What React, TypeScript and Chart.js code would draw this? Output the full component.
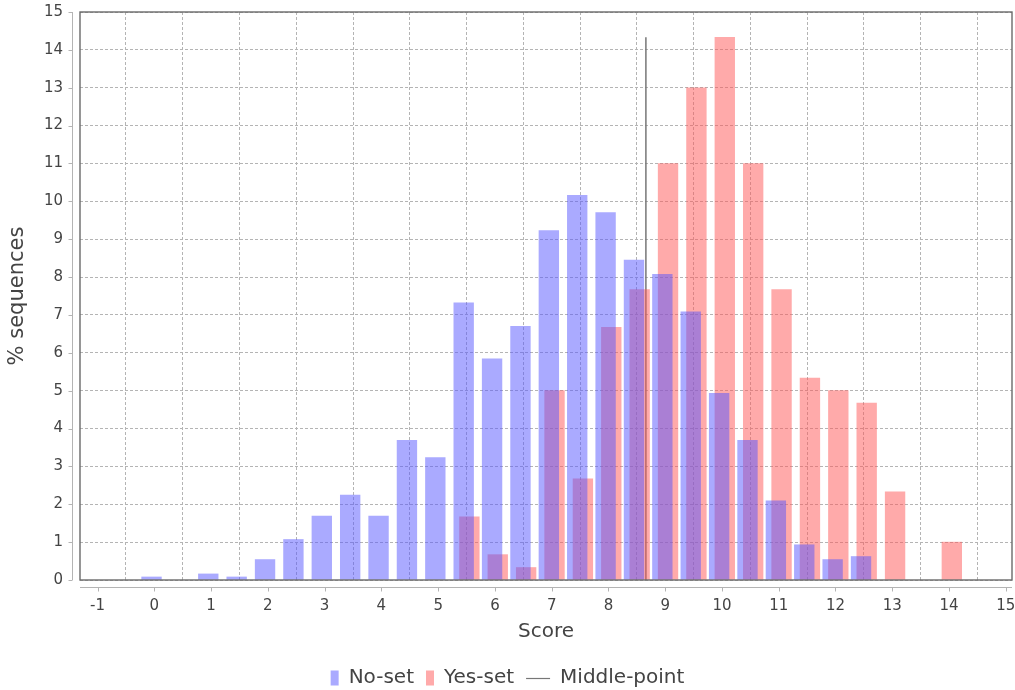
import React, { useEffect, useRef } from "react";
import { Chart, registerables } from "chart.js";

Chart.register(...registerables);

// ---- data ----
const NO_SCORES = [0, 1, 1.5, 2, 2.5, 3, 3.5, 4, 4.5, 5, 5.5, 6, 6.5, 7, 7.5, 8, 8.5, 9, 9.5, 10, 10.5, 11, 11.5, 12, 12.5];
const NO_VALUES = [0.08, 0.16, 0.08, 0.54, 1.07, 1.69, 2.24, 1.69, 3.69, 3.23, 7.32, 5.84, 6.7, 9.23, 10.16, 9.7, 8.45, 8.07, 7.08, 4.93, 3.69, 2.09, 0.93, 0.54, 0.62];
const YES_SCORES = [5.5, 6, 6.5, 7, 7.5, 8, 8.5, 9, 9.5, 10, 10.5, 11, 11.5, 12, 12.5, 13, 14];
const YES_VALUES = [1.67, 0.67, 0.33, 5.0, 2.67, 6.67, 7.67, 11.0, 13.0, 14.33, 11.0, 7.67, 5.33, 5.0, 4.67, 2.33, 1.0];
const MIDDLE_X = 8.66;
const MIDDLE_Y = [0, 14.33];
const SERIES_LABELS = ["No-set", "Yes-set", "Middle-point"];
const X_TITLE = "Score";
const Y_TITLE = "% sequences";
const X_RANGE = [-1.31, 15.11];
const Y_RANGE = [0, 15];

// ---- styles ----
const BLUE = "rgba(85,85,255,0.5)";
const RED = "rgba(255,85,85,0.5)";
const MID_COLOR = "#777777";
const TEXT = "#444444";
const FONT = "'DejaVu Sans', sans-serif";
const BAR_SHIFT = 0.05;

const zeroPad = (s: any) => {
  s.paddingLeft = 0;
  s.paddingRight = 0;
  s.paddingTop = 0;
  s.paddingBottom = 0;
};

const decorPlugin = {
  id: "decor",
  afterDraw(chart: any) {
    const { ctx, chartArea: a, scales } = chart;
    const x = scales.x;
    const y = scales.y;
    ctx.save();
    // plot outline
    ctx.strokeStyle = "#6a6a6a";
    ctx.lineWidth = 1.4;
    ctx.strokeRect(a.left, a.top, a.right - a.left, a.bottom - a.top);
    // axis lines offset from plot
    ctx.strokeStyle = "#b4b4b4";
    ctx.lineWidth = 1;
    const yx = a.left - 7.5;
    ctx.beginPath();
    ctx.moveTo(yx, a.top);
    ctx.lineTo(yx, a.bottom);
    y.ticks.forEach((t: any) => {
      const py = Math.round(y.getPixelForValue(t.value)) + 0.5;
      ctx.moveTo(yx - 4, py);
      ctx.lineTo(yx, py);
    });
    const xy = a.bottom + 7.5;
    ctx.moveTo(a.left, xy);
    ctx.lineTo(a.right, xy);
    x.ticks.forEach((t: any) => {
      const px = Math.round(x.getPixelForValue(t.value)) + 0.5;
      ctx.moveTo(px, xy);
      ctx.lineTo(px, xy + 4);
    });
    ctx.stroke();

    // legend
    const items = chart.data.datasets.map((ds: any) => ({
      label: ds.label,
      kind: ds.type === "line" ? "line" : "box",
      color: ds.type === "line" ? ds.borderColor : ds.backgroundColor,
    }));
    ctx.font = `20px ${FONT}`;
    ctx.textBaseline = "middle";
    const boxW = 8, boxH = 15, lineW = 24, gapIcon = 10, gapItem = 12;
    const widths = items.map((it: any) => (it.kind === "line" ? lineW : boxW) + gapIcon + ctx.measureText(it.label).width);
    const total = widths.reduce((s: number, w: number) => s + w, 0) + gapItem * (items.length - 1);
    let cx = chart.width / 2 - total / 2;
    const cy = 678;
    items.forEach((it: any) => {
      if (it.kind === "box") {
        ctx.fillStyle = it.color;
        ctx.fillRect(cx, cy - boxH / 2, boxW, boxH);
        cx += boxW + gapIcon;
      } else {
        ctx.strokeStyle = it.color;
        ctx.lineWidth = 1.2;
        ctx.beginPath();
        ctx.moveTo(cx, cy + 0.5);
        ctx.lineTo(cx + lineW, cy + 0.5);
        ctx.stroke();
        cx += lineW + gapIcon;
      }
      ctx.fillStyle = TEXT;
      ctx.textAlign = "left";
      ctx.fillText(it.label, cx, cy);
      cx += ctx.measureText(it.label).width + gapItem;
    });
    ctx.restore();
  },
};

export default function App() {
  const ref = useRef<HTMLCanvasElement | null>(null);
  useEffect(() => {
    document.body.style.margin = "0";
    const canvas = ref.current;
    if (!canvas) return;
    const gridCommon = {
      color: "#b4b4b4",
      lineWidth: 1,
      drawTicks: false,
    };
    const chart = new Chart(canvas, {
      data: {
        datasets: [
          {
            type: "bar",
            label: SERIES_LABELS[0],
            data: NO_SCORES.map((s, i) => ({ x: s - BAR_SHIFT, y: NO_VALUES[i] })),
            backgroundColor: BLUE,
            borderWidth: 0,
            barThickness: 19.7,
            grouped: false,
          },
          {
            type: "bar",
            label: SERIES_LABELS[1],
            data: YES_SCORES.map((s, i) => ({ x: s + BAR_SHIFT, y: YES_VALUES[i] })),
            backgroundColor: RED,
            borderWidth: 0,
            barThickness: 19.7,
            grouped: false,
          },
          {
            type: "line",
            label: SERIES_LABELS[2],
            data: MIDDLE_Y.map((v) => ({ x: MIDDLE_X, y: v })),
            borderColor: MID_COLOR,
            borderWidth: 1.5,
            pointRadius: 0,
            fill: false,
          },
        ] as any,
      },
      options: {
        responsive: false,
        animation: false,
        layout: { padding: { top: 12, right: 3, bottom: 40, left: 0 } },
        plugins: {
          legend: { display: false },
          tooltip: { enabled: false },
        },
        scales: {
          x: {
            type: "linear",
            offset: false,
            min: X_RANGE[0],
            max: X_RANGE[1],
            afterFit: (s: any) => {
              s.height = 70;
              zeroPad(s);
            },
            ticks: {
              stepSize: 1,
              includeBounds: false,
              font: { family: FONT, size: 15 },
              color: TEXT,
              padding: 17,
              maxRotation: 0,
              autoSkip: false,
            },
            grid: gridCommon,
            border: { display: false, dash: [3, 2] },
            title: {
              display: true,
              text: X_TITLE,
              font: { family: FONT, size: 20 },
              color: TEXT,
              padding: { top: 0, bottom: 6 },
            },
          },
          y: {
            type: "linear",
            min: Y_RANGE[0],
            max: Y_RANGE[1],
            afterFit: (s: any) => {
              s.width = 80;
              zeroPad(s);
            },
            ticks: {
              stepSize: 1,
              font: { family: FONT, size: 15 },
              color: TEXT,
              padding: 17,
            },
            grid: gridCommon,
            border: { display: false, dash: [3, 2] },
            title: {
              display: true,
              text: Y_TITLE,
              font: { family: FONT, size: 21 },
              color: TEXT,
              padding: { top: 5, bottom: 0 },
            },
          },
        },
      } as any,
      plugins: [decorPlugin],
    });
    return () => chart.destroy();
  }, []);
  return (
    <div style={{ position: "fixed", left: 0, top: 0, width: 1015, height: 690, background: "#fff" }}>
      <canvas ref={ref} width={1015} height={690} style={{ display: "block" }} />
    </div>
  );
}
